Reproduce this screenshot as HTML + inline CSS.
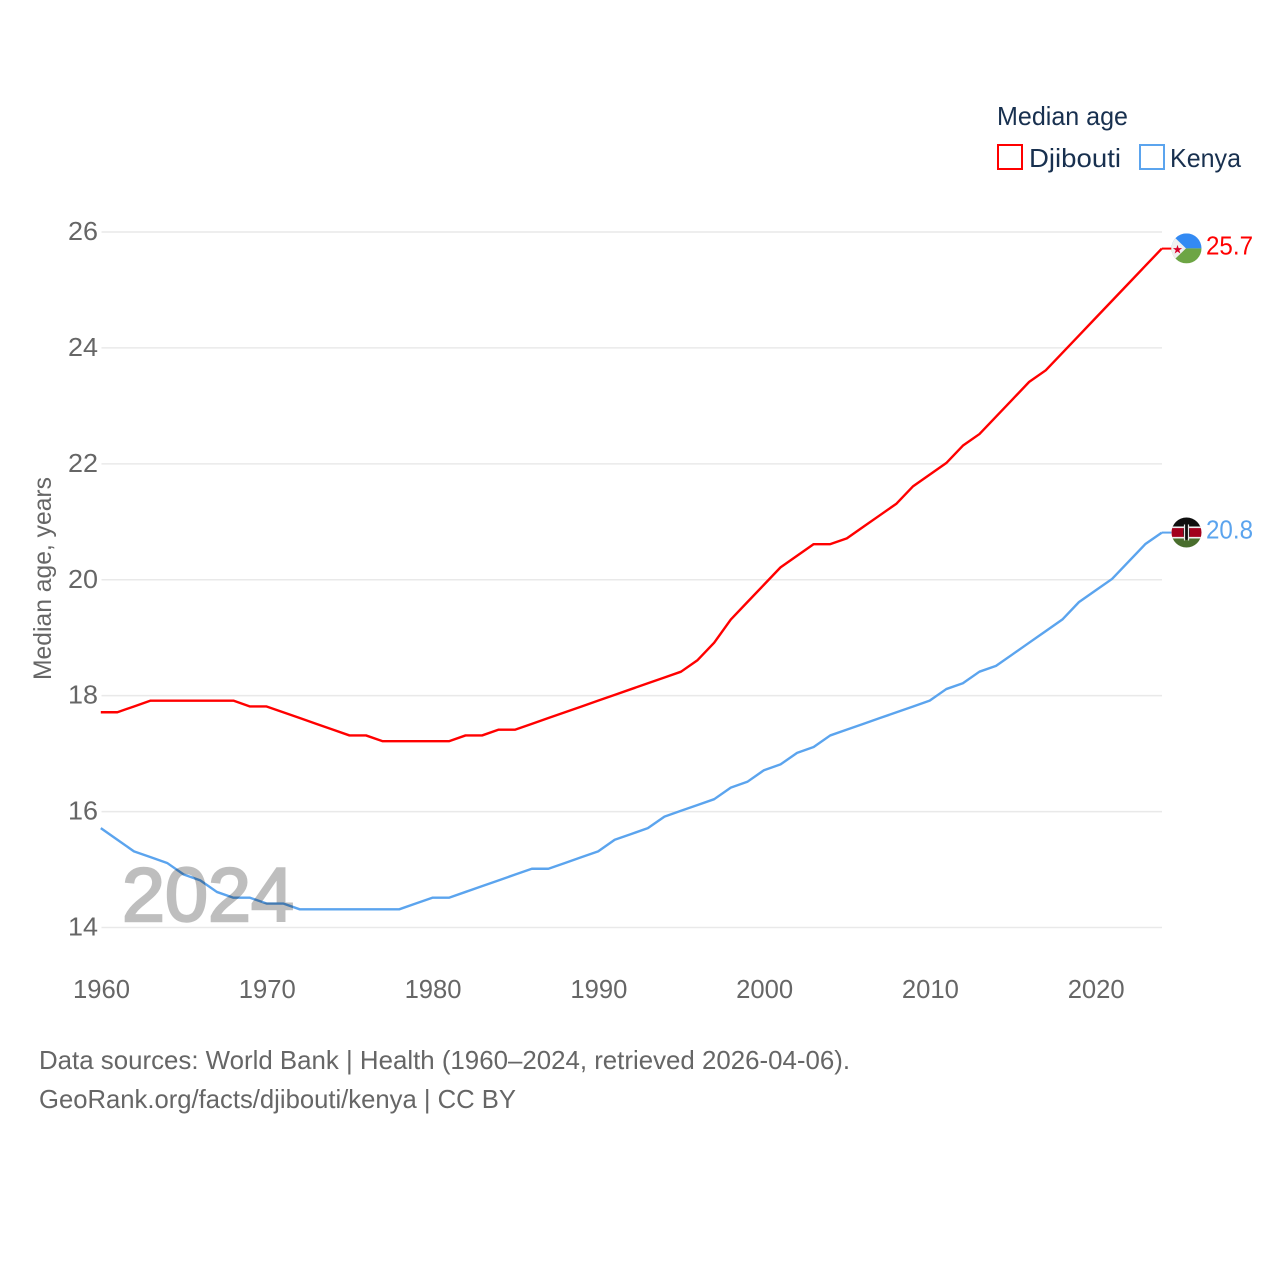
<!DOCTYPE html>
<html lang="en">
<head>
<meta charset="utf-8">
<title>Median age: Djibouti and Kenya</title>
<style>
html,body{margin:0;padding:0;background:#fff;width:1280px;height:1280px;overflow:hidden}
svg{display:block}
text{font-family:"Liberation Sans",sans-serif}
</style>
</head>
<body>
<svg id="chart" xmlns="http://www.w3.org/2000/svg" width="1280" height="1280" viewBox="0 0 1280 1280">
  <defs>
    <clipPath id="clip-dj"><circle id="clip-dj-circle" cx="1186.5" cy="248.4" r="15"></circle></clipPath>
    <clipPath id="clip-ke"><circle id="clip-ke-circle" cx="1186.5" cy="532.5" r="15"></circle></clipPath>
  </defs>
  <g id="grid"></g>
  <g id="yticks"></g>
  <g id="xticks"></g>
  <text transform="translate(51,680) rotate(-90)" font-size="25" fill="#666" textLength="203" lengthAdjust="spacingAndGlyphs">Median age, years</text>
  <g id="series" transform="translate(-0.7,-0.8)"></g>
  <text x="122" y="921" font-size="76" font-weight="400" fill="#000" stroke="#000" stroke-width="2.4" opacity="0.25" textLength="172" lengthAdjust="spacingAndGlyphs">2024</text>
  <g id="flags"></g>
  <g>
    <text x="997" y="125" font-size="26" fill="#18304f" textLength="131" lengthAdjust="spacingAndGlyphs">Median age</text>
    <rect x="998" y="145" width="24" height="24" fill="#fff" stroke="#ff0000" stroke-width="2"></rect>
    <text x="1029" y="167" font-size="26" fill="#18304f" textLength="92" lengthAdjust="spacingAndGlyphs">Djibouti</text>
    <rect x="1140" y="145" width="24" height="24" fill="#fff" stroke="#5ba4ee" stroke-width="2"></rect>
    <text x="1170" y="167" font-size="26" fill="#18304f" textLength="71" lengthAdjust="spacingAndGlyphs">Kenya</text>
  </g>
  <g>
    <text x="39" y="1069" font-size="26" fill="#666" textLength="811" lengthAdjust="spacingAndGlyphs">Data sources: World Bank | Health (1960–2024, retrieved 2026-04-06).</text>
    <text x="39" y="1108" font-size="26" fill="#666" textLength="477" lengthAdjust="spacingAndGlyphs">GeoRank.org/facts/djibouti/kenya | CC BY</text>
  </g>
</svg>
<script>
const years = [1960,1961,1962,1963,1964,1965,1966,1967,1968,1969,1970,1971,1972,1973,1974,1975,1976,1977,1978,1979,1980,1981,1982,1983,1984,1985,1986,1987,1988,1989,1990,1991,1992,1993,1994,1995,1996,1997,1998,1999,2000,2001,2002,2003,2004,2005,2006,2007,2008,2009,2010,2011,2012,2013,2014,2015,2016,2017,2018,2019,2020,2021,2022,2023,2024];
const djibouti = [17.7,17.7,17.8,17.9,17.9,17.9,17.9,17.9,17.9,17.8,17.8,17.7,17.6,17.5,17.4,17.3,17.3,17.2,17.2,17.2,17.2,17.2,17.3,17.3,17.4,17.4,17.5,17.6,17.7,17.8,17.9,18.0,18.1,18.2,18.3,18.4,18.6,18.9,19.3,19.6,19.9,20.2,20.4,20.6,20.6,20.7,20.9,21.1,21.3,21.6,21.8,22.0,22.3,22.5,22.8,23.1,23.4,23.6,23.9,24.2,24.5,24.8,25.1,25.4,25.7];
const kenya = [15.7,15.5,15.3,15.2,15.1,14.9,14.8,14.6,14.5,14.5,14.4,14.4,14.3,14.3,14.3,14.3,14.3,14.3,14.3,14.4,14.5,14.5,14.6,14.7,14.8,14.9,15.0,15.0,15.1,15.2,15.3,15.5,15.6,15.7,15.9,16.0,16.1,16.2,16.4,16.5,16.7,16.8,17.0,17.1,17.3,17.4,17.5,17.6,17.7,17.8,17.9,18.1,18.2,18.4,18.5,18.7,18.9,19.1,19.3,19.6,19.8,20.0,20.3,20.6,20.8];
const yTickValues = [14,16,18,20,22,24,26];
const xTickValues = [1960,1970,1980,1990,2000,2010,2020];

const NS = 'http://www.w3.org/2000/svg';
function xScale(year){ return 101.5 + (year - 1960) * (1162.5 - 101.5) / 64; }
function yScale(v){ return 927.5 - (v - 14) * (927.5 - 232) / 12; }
function make(tag, attrs, parent, txt){
  const el = document.createElementNS(NS, tag);
  for (const k in attrs) el.setAttribute(k, attrs[k]);
  if (txt !== undefined) el.textContent = txt;
  parent.appendChild(el);
  return el;
}

const gridG = document.getElementById('grid');
const yG = document.getElementById('yticks');
yTickValues.forEach(function(v){
  const line = make('line', {x1:101.5, x2:1162, y1:yScale(v), y2:yScale(v), stroke:'#e9e9e9', 'stroke-width':1.5}, gridG);
  
  
  const t = make('text', {x:98, y:yScale(v)+8, 'text-anchor':'end', 'font-size':26, fill:'#666', textLength:30, lengthAdjust:'spacingAndGlyphs'}, yG, String(v));
  
  
});

const xG = document.getElementById('xticks');
xTickValues.forEach(function(y){
  const t = make('text', {x:xScale(y), y:998, 'text-anchor':'middle', 'font-size':26, fill:'#666', textLength:57, lengthAdjust:'spacingAndGlyphs'}, xG, String(y));
  
  
});

const seriesG = document.getElementById('series');
function linePoints(values){
  return years.map(function(y, i){ return xScale(y).toFixed(2) + ',' + yScale(values[i]).toFixed(2); }).join(' ');
}
function connector(values){
  const last = values[values.length - 1];
  return make('line', {x1:xScale(years[years.length - 1]), x2:1172, y1:yScale(last), y2:yScale(last), stroke:'none', 'stroke-width':2}, seriesG);
}

const kenyaLine = make('polyline', {points:linePoints(kenya), fill:'none', stroke:'#5ba4ee', 'stroke-width':2.4, 'stroke-linejoin':'round'}, seriesG);


const kenyaConn = connector(kenya);
kenyaConn.setAttribute('stroke', '#5ba4ee');



const djLine = make('polyline', {points:linePoints(djibouti), fill:'none', stroke:'#ff0000', 'stroke-width':2.4, 'stroke-linejoin':'round'}, seriesG);


const djConn = connector(djibouti);
djConn.setAttribute('stroke', '#ff0000');



const flagsG = document.getElementById('flags');
const cx = 1186.5;
const djY = yScale(djibouti[djibouti.length - 1]) - 1;
const keY = yScale(kenya[kenya.length - 1]) - 0.9;
document.getElementById('clip-dj-circle').setAttribute('cy', djY);
document.getElementById('clip-ke-circle').setAttribute('cy', keY);

const dj = make('g', {'clip-path':'url(#clip-dj)'}, flagsG);


make('rect', {x:cx-15, y:djY-15, width:30, height:15, fill:'#338af3'}, dj);
make('rect', {x:cx-15, y:djY, width:30, height:15, fill:'#6da544'}, dj);
const hoist = (cx-15) + ',' + (djY-14) + ' ' + (cx-0.5) + ',' + djY + ' ' + (cx-15) + ',' + (djY+14);
make('polygon', {points:hoist, fill:'#f0f0f0'}, dj);
make('text', {x:cx-9, y:djY+5, 'text-anchor':'middle', 'font-size':12, fill:'#d80027'}, dj, '★');

const ke = make('g', {'clip-path':'url(#clip-ke)'}, flagsG);


make('rect', {x:cx-15, y:keY-15, width:30, height:10, fill:'#0f0f0f'}, ke);
make('rect', {x:cx-15, y:keY-5, width:30, height:10, fill:'#a2001d'}, ke);
make('rect', {x:cx-15, y:keY+5, width:30, height:10, fill:'#496e2d'}, ke);
make('rect', {x:cx-15, y:keY-6, width:30, height:1.6, fill:'#f0f0f0'}, ke);
make('rect', {x:cx-15, y:keY+4.4, width:30, height:1.6, fill:'#f0f0f0'}, ke);
make('ellipse', {cx:cx, cy:keY, rx:3.4, ry:7.5, fill:'#0f0f0f'}, ke);
make('rect', {x:cx-2.6, y:keY-8, width:1.2, height:16, fill:'#e8e8e8'}, ke);
make('rect', {x:cx+1.4, y:keY-8, width:1.2, height:16, fill:'#e8e8e8'}, ke);

const djVal = make('text', {x:1206, y:254, 'font-size':26, fill:'#ff0000', textLength:47, lengthAdjust:'spacingAndGlyphs'}, flagsG, djibouti[djibouti.length - 1].toFixed(1));
djVal.setAttribute('y', yScale(djibouti[djibouti.length - 1]) + 5);


const keVal = make('text', {x:1206, y:538, 'font-size':26, fill:'#5ba4ee', textLength:47, lengthAdjust:'spacingAndGlyphs'}, flagsG, kenya[kenya.length - 1].toFixed(1));
keVal.setAttribute('y', yScale(kenya[kenya.length - 1]) + 5);


</script>
</body>
</html>
